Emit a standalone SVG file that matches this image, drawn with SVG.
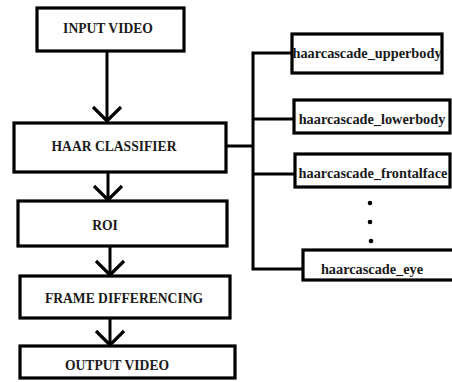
<svg xmlns="http://www.w3.org/2000/svg" width="452" height="382" viewBox="0 0 452 382">
<defs>
<marker id="v" markerUnits="userSpaceOnUse" markerWidth="34" markerHeight="34" refX="16" refY="17" orient="auto" viewBox="0 0 34 34">
<path d="M2,3 L16,17 L2,31" fill="none" stroke="#000" stroke-width="3.2"/>
</marker>
<style>
.box{fill:#fff;stroke:#000;stroke-width:3.2}
.t{font-weight:bold;fill:#1a1a1a;text-anchor:middle}
.m{font-size:13.6px}
.s{font-size:14.3px}
.c{fill:none;stroke:#000;stroke-width:3}
</style>
</defs>
<rect width="452" height="382" fill="#fff"/>
<g id="connectors">
<line class="c" x1="107" y1="52" x2="107" y2="121" marker-end="url(#v)"/>
<line class="c" x1="108" y1="172" x2="108" y2="200" marker-end="url(#v)"/>
<line class="c" x1="110" y1="246" x2="110" y2="275" marker-end="url(#v)"/>
<line class="c" x1="110" y1="318" x2="110" y2="345" marker-end="url(#v)"/>
<polyline class="c" points="226,146 253,146"/>
<polyline class="c" points="292,53 253,53 253,269 303,269"/>
<line class="c" x1="253" y1="119" x2="294" y2="119"/>
<line class="c" x1="253" y1="174" x2="295" y2="174"/>
</g>
<g font-family="Liberation Serif, Times New Roman, serif">
<g id="input"><rect class="box" x="37" y="8" width="147" height="43"/><text class="t m" x="108" y="33">INPUT VIDEO</text></g>
<g id="haar"><rect class="box" x="14" y="123" width="212" height="49"/><text class="t m" x="114" y="151">HAAR CLASSIFIER</text></g>
<g id="roi"><rect class="box" x="18" y="201" width="209" height="45"/><text class="t m" x="105" y="230">ROI</text></g>
<g id="frame"><rect class="box" x="20" y="276" width="210" height="42"/><text class="t m" x="124" y="303">FRAME DIFFERENCING</text></g>
<g id="output"><rect class="box" x="20" y="346" width="215" height="32"/><text class="t m" x="117" y="370">OUTPUT VIDEO</text></g>
<g id="upperbody"><rect class="box" x="292" y="34" width="150" height="39"/><text class="t s" x="367" y="58">haarcascade_upperbody</text></g>
<g id="lowerbody"><rect class="box" x="294" y="100" width="156" height="33"/><text class="t s" x="372" y="124">haarcascade_lowerbody</text></g>
<g id="frontalface"><rect class="box" x="295" y="154" width="155" height="33"/><text class="t s" x="373" y="178">haarcascade_frontalface</text></g>
<g id="dots"><circle cx="370" cy="203" r="2.3" fill="#000"/><circle cx="370" cy="222" r="2.3" fill="#000"/><circle cx="371" cy="241" r="2.3" fill="#000"/></g>
<g id="eye"><rect class="box" x="303" y="250" width="160" height="30"/><text class="t s" x="372" y="274">haarcascade_eye</text></g>
</g>
</svg>
